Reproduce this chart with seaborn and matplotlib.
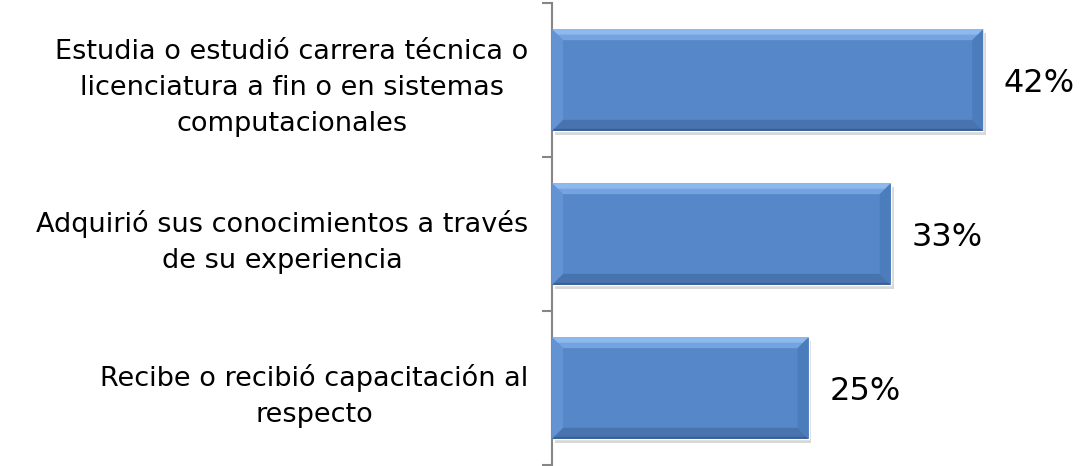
import seaborn as sns
import matplotlib.pyplot as plt
import matplotlib.patheffects as pe
from matplotlib.patches import Polygon
from matplotlib.transforms import IdentityTransform
import pandas as pd

sns.set_theme(style="white")
plt.rcParams['font.family'] = ['DejaVu Sans']

categories = [
    "Estudia o estudió carrera técnica o\nlicenciatura a fin o en sistemas\ncomputacionales",
    "Adquirió sus conocimientos a través\nde su experiencia",
    "Recibe o recibió capacitación al\nrespecto",
]
values = [42, 33, 25]
value_labels = ["42%", "33%", "25%"]

df = pd.DataFrame({"categoria": categories, "porcentaje": values})

fig = plt.figure(figsize=(10.9, 4.66), dpi=100)
ax = fig.add_axes([552 / 1090, 1 / 466, 538 / 1090, 462 / 466])

sns.barplot(data=df, x="porcentaje", y="categoria", orient="h", width=0.66,
            color="#5587C9", saturation=1, ax=ax)

ax.set_xlim(0, 52.4)
ax.set_ylim(2.5, -0.5)
ax.set_xlabel("")
ax.set_ylabel("")
ax.set_xticks([])

for s in ["top", "right", "bottom"]:
    ax.spines[s].set_visible(False)
ax.spines["left"].set_color("#868686")
ax.spines["left"].set_linewidth(1.5)

ax.set_yticks([-0.5, 0.5, 1.5, 2.5], minor=True)
ax.tick_params(axis="y", which="major", length=0, pad=17, labelsize=19.5, labelcolor="black")
ax.tick_params(axis="y", which="minor", length=7.5, width=1.5, color="#868686", left=True)
plt.setp(ax.get_yticklabels(), multialignment="center", linespacing=1.5)

# bevel + shadow like Excel bars
fig.canvas.draw()
b = 11
for bar in ax.patches:
    bar.set_path_effects([pe.SimplePatchShadow(offset=(2, -3), shadow_rgbFace="#909090", alpha=0.35),
                          pe.Normal()])
    bb = bar.get_window_extent()
    x0, y0, x1, y1 = bb.x0, bb.y0, bb.x1, bb.y1
    faces = [
        ([(x0, y1), (x1, y1), (x1 - b, y1 - b), (x0 + b, y1 - b)], "#74A3DF"),
        ([(x0, y1), (x1, y1), (x1 - b / 2, y1 - b / 2), (x0 + b / 2, y1 - b / 2)], "#8DB9EE"),
        ([(x0, y0), (x1, y0), (x1 - b, y0 + b), (x0 + b, y0 + b)], "#4873AE"),
        ([(x0, y0), (x1, y0), (x1 - 2, y0 + 2), (x0 + 2, y0 + 2)], "#3A5F94"),
        ([(x1, y0), (x1, y1), (x1 - b, y1 - b), (x1 - b, y0 + b)], "#4B7CBC"),
        ([(x0, y0), (x0, y1), (x0 + b, y1 - b), (x0 + b, y0 + b)], "#6393D2"),
    ]
    for pts, c in faces:
        fig.add_artist(Polygon(pts, closed=True, facecolor=c, edgecolor="none",
                               transform=IdentityTransform(), zorder=3))

for i, v in enumerate(values):
    ax.text(v + 2, i + 0.02, value_labels[i], va="center", ha="left",
            fontsize=23, color="black")

fig.savefig("out.png", dpi=100)
